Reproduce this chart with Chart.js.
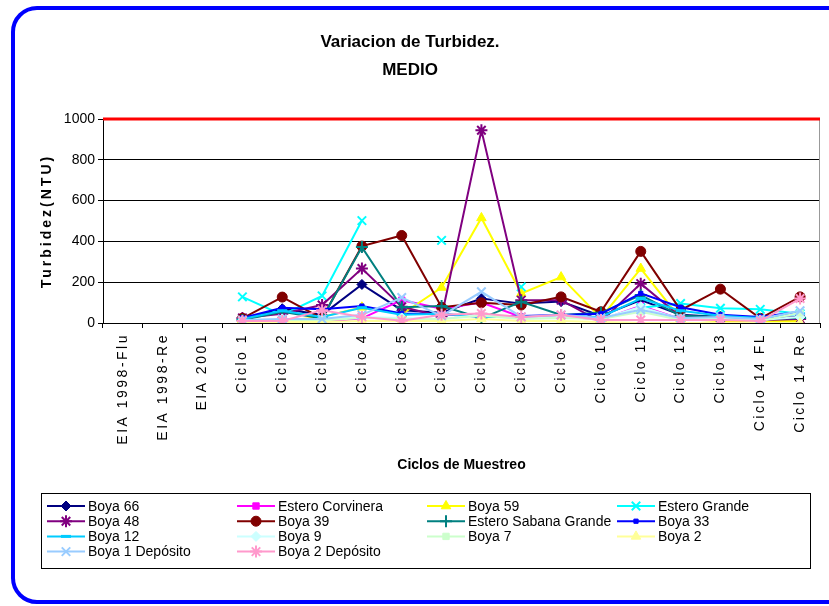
<!DOCTYPE html>
<html>
<head>
<meta charset="utf-8">
<script src="https://cdn.jsdelivr.net/npm/chart.js@4.4.1/dist/chart.umd.min.js"></script>
<style>
  html, body { margin: 0; padding: 0; background: #fff; }
  #wrap { position: relative; width: 829px; height: 606px; }
</style>
</head>
<body>
<div id="wrap"><canvas id="myChart" width="829" height="606"></canvas></div>
<script>
const FONT = "'Liberation Sans', Arial, sans-serif";

const categories = ['EIA 1998-Flu', 'EIA 1998-Re', 'EIA 2001', 'Ciclo 1', 'Ciclo 2', 'Ciclo 3', 'Ciclo 4',
  'Ciclo 5', 'Ciclo 6', 'Ciclo 7', 'Ciclo 8', 'Ciclo 9', 'Ciclo 10', 'Ciclo 11', 'Ciclo 12',
  'Ciclo 13', 'Ciclo 14 FL', 'Ciclo 14 Re'];

const yTicks = [0, 200, 400, 600, 800, 1000];
const limitValue = 1000;

// values per series (first three categories have no data)
const boya66 = [null, null, null, 20, 70, 40, 189, 63, 50, 120, 95, 105, 35, 112, 40, 30, 20, 30];
const esteroCorvinera = [null, null, null, 8, 5, 5, 23, 112, 70, 100, 30, 35, 15, 84, 20, 20, 15, 25];
const boya59 = [null, null, null, 15, 10, 30, 77, 43, 174, 515, 145, 225, 25, 267, 20, 10, 10, 10];
const esteroGrande = [null, null, null, 128, 40, 133, 502, null, 405, null, 177, null, null, 75, 96, 72, 67, 45];
const boya48 = [null, null, null, 25, 45, 88, 267, 80, 31, 945, 112, 112, 6, 193, 30, 25, 15, 20];
const boya39 = [null, null, null, 23, 127, 23, 377, 429, 77, 99, 88, 128, 55, 351, 63, 166, 23, 128];
const esteroSabanaGrande = [null, null, null, 15, 55, 23, 372, 77, 83, 23, 104, 39, 50, 137, 35, 30, 20, 25];
const boya33 = [null, null, null, 25, 75, 67, 83, 47, 43, 31, 34, 39, 45, 145, 77, 40, 30, 55];
const boya12 = [null, null, null, 20, 60, 30, 75, 40, 45, 30, 30, 35, 30, 120, 60, 35, 25, 45];
const boya9 = [null, null, null, 10, 20, 15, 30, 25, 20, 40, 25, 30, 20, 80, 20, 20, 15, 30];
const boya7 = [null, null, null, 10, 15, 12, 25, 20, 20, 35, 20, 25, 20, 55, 15, 20, 10, 50];
const boya2 = [null, null, null, 5, 5, 5, 10, 10, 10, 20, 10, 10, 5, 0, 0, 0, 0, 0];
const boya1Deposito = [null, null, null, 15, 20, 20, 40, 125, 35, 153, 30, 40, 25, 65, 25, 30, 20, 60];
const boya2Deposito = [null, null, null, 10, 10, 63, 30, 11, 40, 47, 30, 39, 15, 15, 15, 15, 10, 120];

const seriesNames = ['Boya 66', 'Estero Corvinera', 'Boya 59', 'Estero Grande', 'Boya 48', 'Boya 39',
  'Estero Sabana Grande', 'Boya 33', 'Boya 12', 'Boya 9', 'Boya 7', 'Boya 2', 'Boya 1 Depósito', 'Boya 2 Depósito'];
const seriesValues = [boya66, esteroCorvinera, boya59, esteroGrande, boya48, boya39,
  esteroSabanaGrande, boya33, boya12, boya9, boya7, boya2, boya1Deposito, boya2Deposito];
const seriesColors = ['#000080', '#ff00ff', '#ffff00', '#00ffff', '#800080', '#800000',
  '#008080', '#0000ff', '#00ccff', '#ccffff', '#ccffcc', '#ffff99', '#99ccff', '#ff99cc'];
const seriesMarkers = ['rectRot', 'rect', 'triangle', 'crossRot', 'star', 'circle',
  'cross', 'rect', 'line', 'rectRot', 'rect', 'triangle', 'crossRot', 'star'];
const markerSizes = [5, 4.5, 5.5, 6, 6, 5, 6, 3, 5, 5, 4.5, 5.5, 6, 6];

const datasets = seriesNames.map((name, i) => {
  const open = ['crossRot', 'star', 'cross', 'line'].includes(seriesMarkers[i]);
  return {
    label: name,
    data: seriesValues[i],
    borderColor: seriesColors[i],
    backgroundColor: seriesColors[i],
    borderWidth: 2,
    pointStyle: seriesMarkers[i],
    pointRadius: markerSizes[i],
    pointHoverRadius: markerSizes[i],
    pointBorderWidth: seriesMarkers[i] === 'line' ? 3 : (open ? 2 : 1),
    pointBackgroundColor: seriesColors[i],
    pointBorderColor: seriesColors[i],
    tension: 0,
    spanGaps: false,
    order: seriesNames.length - i
  };
});

// blue rounded frame
const framePlugin = {
  id: 'frame',
  beforeDraw(chart) {
    const ctx = chart.ctx;
    ctx.save();
    ctx.fillStyle = '#fff';
    ctx.fillRect(0, 0, chart.width, chart.height);
    ctx.strokeStyle = '#0000ff';
    ctx.lineWidth = 4;
    ctx.beginPath();
    ctx.roundRect(13, 8, 860, 594, 24);
    ctx.stroke();
    ctx.restore();
  }
};

// thick red line at the 1000 limit, and plot right edge
const limitPlugin = {
  id: 'limit',
  beforeDatasetsDraw(chart) {
    const ctx = chart.ctx;
    const a = chart.chartArea;
    const y = chart.scales.y.getPixelForValue(limitValue);
    ctx.save();
    ctx.strokeStyle = '#999';
    ctx.lineWidth = 1;
    ctx.beginPath();
    ctx.moveTo(a.right - 0.5, a.top);
    ctx.lineTo(a.right - 0.5, a.bottom);
    ctx.stroke();
    ctx.strokeStyle = '#ff0000';
    ctx.lineWidth = 3;
    ctx.beginPath();
    ctx.moveTo(a.left, y);
    ctx.lineTo(a.right, y);
    ctx.stroke();
    ctx.restore();
  }
};

// letter spacing for x tick labels and y title
const spacingPlugin = {
  id: 'spacing',
  beforeDraw(chart) {
    const xs = chart.scales.x, ys = chart.scales.y;
    if (!xs._spaced) {
      const dl = xs.drawLabels.bind(xs);
      xs.drawLabels = (area) => { chart.ctx.letterSpacing = '2.5px'; dl(area); chart.ctx.letterSpacing = '0px'; };
      xs._spaced = true;
    }
    if (!ys._spaced) {
      const dt = ys.drawTitle.bind(ys);
      ys.drawTitle = () => { chart.ctx.letterSpacing = '3px'; dt(); chart.ctx.letterSpacing = '0px'; };
      ys._spaced = true;
    }
  }
};

// legend in four columns inside a box
const legendPlugin = {
  id: 'boxLegend',
  afterDraw(chart) {
    const ctx = chart.ctx;
    ctx.save();
    ctx.strokeStyle = '#000';
    ctx.lineWidth = 1;
    ctx.strokeRect(41.5, 493.5, 769, 75);
    ctx.font = '14px ' + FONT;
    ctx.textBaseline = 'middle';
    chart.data.datasets.forEach((ds, i) => {
      const col = i % 4;
      const row = Math.floor(i / 4);
      const x = 47 + col * 190;
      const y = 506 + row * 15.2;
      ctx.strokeStyle = ds.borderColor;
      ctx.lineWidth = 2;
      ctx.beginPath();
      ctx.moveTo(x, y);
      ctx.lineTo(x + 38, y);
      ctx.stroke();
      ctx.fillStyle = ds.pointBackgroundColor;
      ctx.strokeStyle = ds.pointBorderColor;
      ctx.lineWidth = ds.pointBorderWidth;
      if (Chart.helpers && Chart.helpers.drawPoint) {
        Chart.helpers.drawPoint(ctx, { pointStyle: ds.pointStyle, radius: ds.pointRadius, rotation: 0, borderWidth: ds.pointBorderWidth }, x + 19, y);
      }
      ctx.fillStyle = '#000';
      ctx.fillText(ds.label, x + 41, y + 1);
    });
    ctx.restore();
  }
};

const ctx = document.getElementById('myChart').getContext('2d');
const myChart = new Chart(ctx, {
  type: 'line',
  data: { labels: categories, datasets: datasets },
  options: {
    responsive: false,
    animation: false,
    events: [],
    layout: { padding: { left: 0, right: 9, top: 0, bottom: 123 } },
    plugins: {
      legend: { display: false },
      tooltip: { enabled: false },
      title: {
        display: true,
        text: ['Variacion de Turbidez.', 'MEDIO'],
        color: '#000',
        font: { family: FONT, size: 17, weight: 'bold', lineHeight: '28px' },
        padding: { top: 28, bottom: 35 }
      }
    },
    scales: {
      x: {
        offset: true,
        grid: { display: true, offset: true, drawOnChartArea: false, drawTicks: true, tickLength: 5, color: '#000' },
        border: { color: '#000', width: 1 },
        ticks: {
          autoSkip: false, minRotation: 90, maxRotation: 90, padding: 5,
          color: '#000', font: { family: FONT, size: 14 }
        },
        title: {
          display: true, text: 'Ciclos de Muestreo', color: '#000',
          font: { family: FONT, size: 14, weight: 'bold' }, padding: { top: 0, bottom: 9 }
        },
        afterFit(scale) { scale.height = 160; }
      },
      y: {
        min: 0, max: 1000,
        afterBuildTicks(scale) { scale.ticks = yTicks.map(v => ({ value: v })); },
        grid: { color: '#000', lineWidth: 1, tickLength: 5, drawTicks: true },
        border: { color: '#000', width: 1 },
        ticks: { color: '#000', padding: 3, font: { family: FONT, size: 14 }, callback: (v) => String(v) },
        title: {
          display: true, text: 'Turbidez(NTU)', color: '#000',
          font: { family: FONT, size: 14, weight: 'bold' }, padding: { top: 39, bottom: 0 }
        },
        afterFit(scale) { scale.width = 103; }
      }
    }
  },
  plugins: [framePlugin, limitPlugin, spacingPlugin, legendPlugin]
});
</script>
</body>
</html>
